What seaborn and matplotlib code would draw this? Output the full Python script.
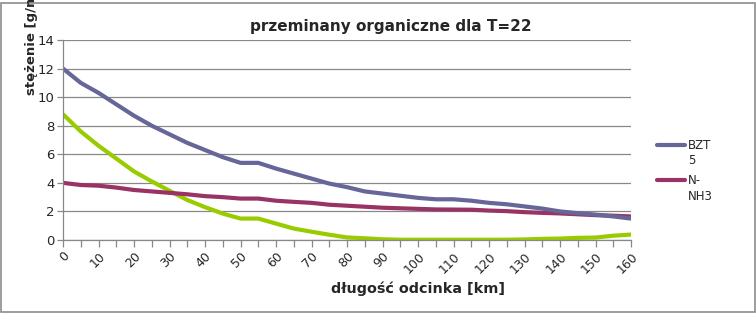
import matplotlib
matplotlib.use("Agg")
import matplotlib.pyplot as plt
import seaborn as sns
import pandas as pd
from matplotlib.patches import Rectangle
from matplotlib.lines import Line2D
from matplotlib.ticker import MultipleLocator

km = list(range(0, 161, 5))
bzt5 = [12.0, 11.0, 10.3, 9.5, 8.7, 8.0, 7.4, 6.8, 6.3, 5.8, 5.4, 5.4, 5.0, 4.65,
        4.3, 3.95, 3.7, 3.4, 3.25, 3.1, 2.95, 2.85, 2.85, 2.75, 2.6, 2.5, 2.35,
        2.2, 2.0, 1.88, 1.78, 1.65, 1.5]
nnh3 = [4.0, 3.85, 3.8, 3.67, 3.5, 3.4, 3.3, 3.2, 3.07, 3.0, 2.9, 2.9, 2.75, 2.67,
        2.6, 2.47, 2.4, 2.33, 2.26, 2.22, 2.18, 2.14, 2.13, 2.12, 2.06, 2.02, 1.95,
        1.9, 1.86, 1.8, 1.74, 1.7, 1.65]
series3 = [8.8, 7.6, 6.6, 5.7, 4.8, 4.1, 3.45, 2.8, 2.3, 1.85, 1.5, 1.5, 1.15, 0.8,
           0.58, 0.37, 0.18, 0.12, 0.05, 0.02, 0.02, 0.02, 0.02, 0.02, 0.02, 0.02,
           0.04, 0.08, 0.1, 0.15, 0.17, 0.3, 0.38]
names = ["BZT\n5", "N-\nNH3"]
colors = ["#666699", "#993366", "#99CC00"]

title = "przeminany organiczne dla T=22"
xlabel = "długość odcinka [km]"
ylabel = "stężenie [g/m3]"

sns.set_theme(style="white")
plt.rcParams['font.family'] = ['DejaVu Sans']

fig = plt.figure(figsize=(7.56, 3.13), dpi=100)
ax = fig.add_axes([63/756, 1-240/313, (631-63)/756, 200/313])

df = pd.DataFrame({"km": km, "bzt5": bzt5, "nnh3": nnh3, "s3": series3})
lw = 3.0
sns.lineplot(data=df, x="km", y="s3", ax=ax, color=colors[2], lw=lw, legend=False)
sns.lineplot(data=df, x="km", y="nnh3", ax=ax, color=colors[1], lw=lw, legend=False)
sns.lineplot(data=df, x="km", y="bzt5", ax=ax, color=colors[0], lw=lw, legend=False)

ax.set_xlim(0, 160)
ax.set_ylim(0, 14)
ax.xaxis.set_major_locator(MultipleLocator(10))
ax.xaxis.set_minor_locator(MultipleLocator(5))
ax.yaxis.set_major_locator(MultipleLocator(2))
ax.set_xlabel("")
ax.set_ylabel("")
gc = "#888888"
ax.grid(axis="y", color=gc, lw=0.9)
ax.grid(axis="x", visible=False)
for s in ["top", "right"]:
    ax.spines[s].set_visible(False)
for s in ["left", "bottom"]:
    ax.spines[s].set_color(gc)
    ax.spines[s].set_linewidth(0.9)
ax.tick_params(axis="both", which="both", direction="out", color=gc, width=0.9)
ax.tick_params(axis="x", which="both", length=5, bottom=True)
ax.tick_params(axis="y", length=4, left=True, labelsize=9.5, pad=2)
ax.tick_params(axis="x", labelsize=9, pad=2)
for t in ax.get_xticklabels():
    t.set_rotation(45)
    t.set_ha("right")
    t.set_va("top")
    t.set_rotation_mode("anchor")

fig.text(391/756, 1-27/313, title, ha="center", va="center", fontsize=11, fontweight="bold")
fig.text(418/756, 1-289/313, xlabel, ha="center", va="center", fontsize=10.4, fontweight="bold")
fig.text(31/756, 1-95/313, ylabel, ha="center", va="bottom", rotation=90, fontsize=9.5, fontweight="bold")

# legend (only two entries as in the original)
for i, (nm, yy) in enumerate(zip(names, [145, 180])):
    fig.add_artist(Line2D([657/756, 685/756], [1-yy/313, 1-yy/313], transform=fig.transFigure,
                          color=colors[i], lw=lw))
    fig.text(688/756, 1-(yy-6)/313, nm, ha="left", va="top", fontsize=8.5, linespacing=1.25)

fig.add_artist(Rectangle((0.5/756, 1.5/313), 754/756, 309/313, transform=fig.transFigure,
                         fill=False, edgecolor="#8c8c8c", lw=1.2))

fig.savefig("out.png", dpi=100)
